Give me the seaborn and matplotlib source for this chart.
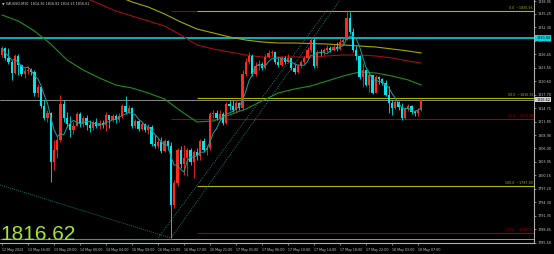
import matplotlib
matplotlib.use("Agg")
import matplotlib.pyplot as plt
import numpy as np
import pandas as pd
import seaborn as sns

# ---------------- data ----------------
first_open = 1826.31
closes = [1827.83, 1825.66, 1824.79, 1822.40, 1826.10, 1824.14, 1822.18, 1822.84, 1823.05, 1822.62,
          1818.05, 1819.36, 1815.23, 1812.62, 1813.71, 1803.05, 1805.66, 1807.83, 1815.66, 1812.62,
          1811.31, 1810.01, 1810.88, 1813.49, 1811.31, 1812.62, 1811.10, 1810.44, 1811.75, 1810.88,
          1811.53, 1811.10, 1813.27, 1812.18, 1813.05, 1812.18, 1813.05, 1815.23, 1813.92, 1814.79,
          1810.88, 1811.96, 1810.22, 1811.31, 1810.01, 1810.66, 1806.96, 1806.53, 1807.40, 1805.44,
          1807.62, 1806.53, 1793.70, 1798.49, 1805.66, 1802.62, 1803.92, 1805.66, 1803.05, 1805.23,
          1804.36, 1807.62, 1805.66, 1806.10, 1813.49, 1813.71, 1812.62, 1813.49, 1811.53, 1815.66,
          1815.23, 1814.36, 1815.88, 1814.79, 1822.18, 1824.79, 1826.10, 1822.18, 1823.92, 1824.36,
          1823.49, 1825.88, 1826.75, 1826.97, 1824.79, 1824.14, 1825.66, 1824.79, 1825.66, 1823.49,
          1822.62, 1823.92, 1824.79, 1825.66, 1827.40, 1829.57, 1823.92, 1826.97, 1826.75, 1827.40,
          1827.83, 1827.40, 1828.05, 1827.62, 1829.14, 1829.57, 1834.36, 1831.31, 1827.40, 1826.10,
          1821.53, 1823.05, 1819.79, 1821.97, 1818.05, 1821.53, 1821.10, 1820.23, 1817.62, 1815.88,
          1814.79, 1816.10, 1815.01, 1812.62, 1814.57, 1815.23, 1813.92, 1813.71, 1814.36, 1816.62]
highs = [1828.27, 1828.05, 1827.83, 1825.23, 1826.53, 1826.53, 1824.36, 1823.49, 1823.92, 1823.49,
         1823.05, 1820.01, 1819.57, 1816.53, 1814.36, 1813.92, 1807.83, 1808.71, 1817.62, 1816.53,
         1813.92, 1813.05, 1811.75, 1813.92, 1813.92, 1813.05, 1813.27, 1812.18, 1812.18, 1812.62,
         1812.18, 1812.18, 1813.92, 1813.05, 1813.49, 1813.49, 1813.71, 1815.66, 1817.40, 1815.44,
         1815.01, 1812.40, 1812.18, 1811.75, 1811.53, 1811.31, 1811.10, 1808.92, 1808.27, 1808.49,
         1808.05, 1807.83, 1807.40, 1799.14, 1806.10, 1806.53, 1806.75, 1806.10, 1806.10, 1805.66,
         1806.10, 1808.05, 1808.27, 1806.75, 1813.92, 1814.36, 1814.36, 1814.36, 1813.92, 1816.10,
         1816.53, 1816.53, 1816.53, 1816.10, 1823.05, 1825.66, 1826.97, 1826.53, 1824.79, 1825.23,
         1824.79, 1826.53, 1827.40, 1827.40, 1827.18, 1825.88, 1826.10, 1826.10, 1826.53, 1825.66,
         1824.36, 1824.36, 1825.23, 1826.10, 1828.05, 1830.23, 1830.01, 1827.40, 1827.62, 1827.83,
         1828.49, 1828.27, 1828.70, 1829.14, 1830.01, 1830.23, 1836.10, 1835.66, 1832.18, 1828.27,
         1826.31, 1824.57, 1823.05, 1822.40, 1821.75, 1821.97, 1821.75, 1821.31, 1820.88, 1819.57,
         1816.53, 1816.53, 1816.31, 1815.88, 1815.01, 1815.66, 1815.44, 1814.36, 1814.79, 1816.82]
lows = [1825.88, 1825.23, 1824.36, 1820.88, 1822.18, 1821.97, 1821.75, 1821.31, 1822.18, 1821.97,
        1817.40, 1817.18, 1814.79, 1812.18, 1811.75, 1798.70, 1801.31, 1803.92, 1807.40, 1811.75,
        1810.66, 1808.49, 1809.14, 1810.88, 1810.66, 1810.66, 1810.01, 1809.57, 1810.01, 1810.44,
        1810.22, 1810.44, 1809.79, 1810.44, 1811.75, 1811.53, 1811.75, 1812.62, 1813.49, 1813.71,
        1810.44, 1810.44, 1809.79, 1810.01, 1809.57, 1809.14, 1806.53, 1806.10, 1806.10, 1805.01,
        1805.23, 1805.66, 1786.53, 1793.05, 1797.83, 1801.75, 1800.22, 1800.01, 1802.40, 1799.57,
        1803.49, 1803.49, 1805.23, 1804.57, 1805.66, 1812.62, 1812.18, 1812.18, 1811.10, 1811.31,
        1814.36, 1813.92, 1813.92, 1814.36, 1814.36, 1821.75, 1824.36, 1821.75, 1821.75, 1823.05,
        1823.05, 1823.27, 1825.66, 1826.10, 1824.36, 1823.71, 1823.92, 1824.36, 1824.57, 1823.05,
        1822.18, 1822.40, 1823.49, 1824.36, 1825.23, 1826.97, 1823.49, 1823.49, 1826.10, 1826.31,
        1826.97, 1826.97, 1827.18, 1827.18, 1827.40, 1828.49, 1829.57, 1830.88, 1826.97, 1825.23,
        1821.10, 1819.36, 1819.57, 1818.27, 1817.83, 1818.27, 1820.01, 1819.79, 1817.40, 1813.71,
        1813.27, 1814.57, 1814.36, 1812.18, 1812.40, 1814.14, 1813.49, 1813.05, 1813.05, 1814.13]

time_labels = ["12 May 2022", "13 May 16:00", "13 May 20:00", "14 May 00:00", "14 May 04:00",
               "16 May 09:00", "16 May 13:00", "16 May 17:00", "16 May 21:00", "17 May 01:00",
               "17 May 06:00", "17 May 10:00", "17 May 14:00", "17 May 18:00", "17 May 22:00",
               "18 May 03:00", "18 May 07:00"]
price_ticks = [1838.05, 1835.25, 1832.30, 1829.40, 1826.45, 1823.55, 1820.60, 1817.70, 1814.75,
               1811.85, 1808.90, 1806.00, 1803.05, 1800.15, 1797.20, 1794.30, 1791.35, 1788.45, 1785.50]

# moving averages (bar index, value)
ma_green_bars = [0, 5, 10, 15, 20, 25, 30, 35, 40, 45, 50, 55, 60, 65, 70, 75, 80, 85, 90, 95,
                 100, 105, 110, 115, 120, 125, 129]
ma_green_vals = [1835.01, 1833.71, 1831.53, 1828.70, 1825.23, 1823.05, 1821.31, 1819.79, 1819.14,
                 1818.05, 1816.75, 1814.14, 1811.75, 1811.96, 1813.27, 1814.57, 1816.31, 1818.05,
                 1818.92, 1819.57, 1820.66, 1821.75, 1822.62, 1822.40, 1821.75, 1820.88, 1819.79]
ma_red_bars = [25, 30, 35, 40, 45, 50, 55, 60, 65, 70, 75, 80, 85, 90, 95, 100, 105, 110, 115, 120,
               125, 129]
ma_red_vals = [1838.92, 1837.40, 1835.88, 1834.79, 1833.71, 1832.62, 1830.66, 1828.50, 1827.62,
               1826.97, 1826.31, 1825.88, 1825.88, 1825.88, 1825.88, 1826.10, 1826.31, 1826.31,
               1826.10, 1825.66, 1825.01, 1824.57]
ma_yellow_bars = [37, 40, 45, 50, 55, 60, 65, 70, 75, 80, 85, 90, 95, 100, 105, 110, 115, 120,
                  125, 129]
ma_yellow_vals = [1838.70, 1837.84, 1836.75, 1835.23, 1833.49, 1831.97, 1831.10, 1830.23, 1829.57,
                  1829.14, 1828.92, 1828.92, 1828.81, 1828.70, 1828.49, 1828.27, 1828.05, 1827.62,
                  1827.18, 1826.75]

fib_names = ["0.0", "50.0", "61.8", "100.0", "127.2"]
fib_prices = [1835.93, 1816.91, 1812.43, 1797.90, 1787.56]
fib_colors = ["#b3b300", "#b3b300", "#a00000", "#b3b300", "#a00000"]
fib_start_bars = [60, 60, 52, 60, 60]

hline_cyan = 1830.01
last_price = 1816.62
low_line = 1786.31

# trend lines (bar, price)
trend_a_bars = [52, 104]
trend_a_prices = [1786.53, 1838.27]
trend_b_bars = [48, 100]
trend_b_prices = [1786.53, 1836.10]
trend_c_bars = [-0.6, 52]
trend_c_prices = [1798.05, 1786.53]

# ---------------- style ----------------
sns.set_theme(style="dark")
plt.rcParams['font.family'] = ['DejaVu Sans']
plt.rcParams['axes.facecolor'] = 'black'
plt.rcParams['figure.facecolor'] = 'black'

fig = plt.figure(figsize=(5.54, 2.54), dpi=100, facecolor='black')
ax = fig.add_axes([0, 11 / 254, 534 / 554, 243 / 254])
ax.set_facecolor('black')
ax.grid(False)

n = len(closes)
idx = np.arange(n)
opens = [first_open] + closes[:-1]
df = pd.DataFrame({"bar": idx, "open": opens, "close": closes, "high": highs, "low": lows})
df["up"] = df["close"] >= df["open"]
UP, DN = "#ff2a1a", "#00e5ee"

# horizontal objects
ax.axhline(hline_cyan, color="#00b4c0", lw=1.4, zorder=1)
ax.axhline(last_price, color="#8a8a8a", lw=0.7, zorder=1)
ax.hlines(low_line, -0.6, 52, color="#16a0a0", lw=0.8, zorder=1)
ax.hlines(low_line, 52, 163.7, color="#9a9a9a", lw=0.7, zorder=1)
ax.hlines(fib_prices[0], 52, 60, color="#a00000", lw=0.8, zorder=1)
for name, p, col, sb in zip(fib_names, fib_prices, fib_colors, fib_start_bars):
    ax.hlines(p, sb, 163.7, color=col, lw=0.8, zorder=1)
    ax.text(163.4, p + 0.2, f"{name}  ~{p:.2f}", color=col, fontsize=2.3,
            ha="right", va="bottom", zorder=5)

# trend lines (dotted)
for bx, py in [(trend_a_bars, trend_a_prices), (trend_b_bars, trend_b_prices),
               (trend_c_bars, trend_c_prices)]:
    ax.plot(bx, py, color="#1a9a8a", lw=0.6, ls=(0, (1, 1.5)), zorder=1)

# moving averages
sns.lineplot(x=ma_green_bars, y=ma_green_vals, color="#1f8f1f", lw=0.8, ax=ax, zorder=2)
sns.lineplot(x=ma_red_bars, y=ma_red_vals, color="#a01010", lw=0.8, ax=ax, zorder=2)
sns.lineplot(x=ma_yellow_bars, y=ma_yellow_vals, color="#a8a800", lw=0.8, ax=ax, zorder=2)

# candles
for up, col in [(True, UP), (False, DN)]:
    d = df[df["up"] == up]
    ax.vlines(d["bar"], d["low"], d["high"], color=col, lw=0.6, zorder=3)
    body_lo = np.minimum(d["open"], d["close"])
    body_h = np.maximum(np.abs(d["close"] - d["open"]), 0.2)
    ax.bar(d["bar"], body_h, bottom=body_lo, width=0.62, color=col, linewidth=0, zorder=4)

# short MA
df["ma5"] = df["close"].rolling(5, min_periods=1).mean()
sns.lineplot(data=df, x="bar", y="ma5", color="#17a3a3", lw=0.7, ax=ax, zorder=5)

ax.set_xlim(-0.615, 163.69)
ax.set_ylim(1785.44, 1838.27)
ax.set_xlabel("")
ax.set_ylabel("")

# axes styling
for s in ["top", "left"]:
    ax.spines[s].set_visible(False)
for s in ["right", "bottom"]:
    ax.spines[s].set_visible(True)
    ax.spines[s].set_color("#b0b0b0")
    ax.spines[s].set_linewidth(0.8)
ax.yaxis.tick_right()
ax.set_yticks(price_ticks)
ax.set_yticklabels([f"{v:.2f}" for v in price_ticks])
ax.set_xticks(np.arange(0, 8 * len(time_labels), 8))
ax.set_xticklabels(time_labels)
ax.tick_params(axis="y", colors="#b0b0b0", labelsize=2.4, length=1.5, width=0.5, pad=1,
               labelcolor="#c8c8c8", right=True, left=False)
ax.tick_params(axis="x", colors="#b0b0b0", labelsize=2.3, length=1.5, width=0.5, pad=2,
               labelcolor="#c8c8c8", bottom=True)
for lbl in ax.get_xticklabels():
    lbl.set_ha("left")

# price boxes on the axis
ax.text(1.004, (hline_cyan - 1785.44) / (1838.27 - 1785.44), "1830.04", transform=ax.transAxes,
        fontsize=2.4, color="black", ha="left", va="center",
        bbox=dict(boxstyle="square,pad=0.25", fc="#00d8e8", ec="none"), clip_on=False)
ax.text(1.004, (last_price - 1785.44) / (1838.27 - 1785.44), f"{last_price:.2f}",
        transform=ax.transAxes, fontsize=2.4, color="black", ha="left", va="center",
        bbox=dict(boxstyle="square,pad=0.25", fc="#d0d0d0", ec="none"), clip_on=False)

# header & big price
fig.text(2 / 554, 1 - 4 / 254, "\u25bc XAUUSD,M30  1814.36 1816.82 1814.13 1816.62",
         fontsize=2.4, color="#d0d0d0", ha="left", va="center")
fig.text(0.5 / 554, (254 - 240) / 254, f"{last_price:.2f}", fontsize=15, color="#a6e22e",
         ha="left", va="baseline", family="Liberation Sans")

fig.savefig("out.png", dpi=100, facecolor="black")
